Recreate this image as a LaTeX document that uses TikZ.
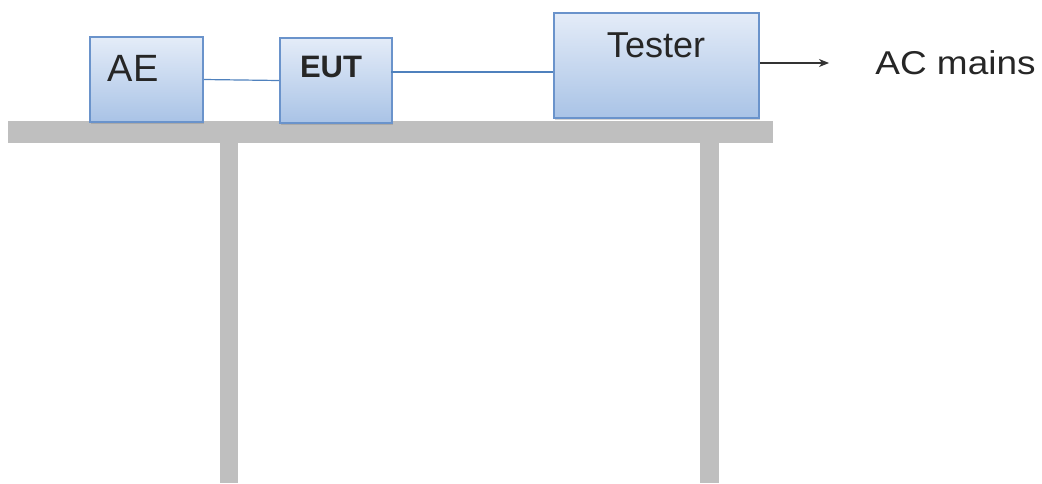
\documentclass[tikz,border=0pt]{standalone}
\usepackage{fontspec}
\setmainfont{Liberation Sans}
\usetikzlibrary{arrows.meta,shadows}
\definecolor{tablegray}{HTML}{BFBFBF}
\definecolor{boxedge}{HTML}{6A93CB}
\definecolor{boxtop}{HTML}{E4ECF8}
\definecolor{boxbot}{HTML}{A9C3E6}
\definecolor{cable}{HTML}{4F81BD}

\begin{document}
\begin{tikzpicture}[x=0.5pt,y=-0.5pt,
  unit/.style={draw=boxedge,line width=1pt,top color=boxtop,bottom color=boxbot,
    inner sep=0pt,anchor=north west,
    drop shadow={shadow xshift=0.4pt,shadow yshift=-0.9pt,opacity=0.35}},
  lbl/.style={inner sep=0pt,text=black!85}]
 \useasboundingbox (0,0) rectangle (1042,483);
 % table
 \fill[tablegray] (8,121) rectangle (773,143);
 \fill[tablegray] (220,143) rectangle (238,483); % left leg
 \fill[tablegray] (700,143) rectangle (719,483); % right leg
 % equipment
 \node[unit,minimum width=56.5pt,minimum height=42.5pt] (ae) at (89,36) {};
 \node[unit,minimum width=56pt,minimum height=42.5pt] (eut) at (279,37) {};
 \node[unit,minimum width=102.5pt,minimum height=52.5pt] (tester) at (553,12) {};
 \node[lbl,font=\fontsize{19}{22}\selectfont] (aetxt) at (133,68) {AE};
 \node[lbl,font=\fontsize{15.5}{18}\selectfont\bfseries] (euttxt) at (331,67) {EUT};
 \node[lbl,font=\fontsize{18}{21}\selectfont] (testertxt) at (656,45) {Tester};
 \node[lbl,font=\fontsize{16.5}{19}\selectfont,anchor=west] (mains) at (875,63) {\scalebox{1.12}[1]{AC mains}};
 % cables
 \draw[cable,line width=0.6pt] (ae.east) -- (eut.west);
 \coordinate (link) at (391,72);
 \draw[cable,line width=1.3pt] (link) -- (link -| tester.west);
 \coordinate (plug) at (829,63);
 \draw[black!80,line width=0.6pt,-{Stealth[length=5pt,width=4pt,inset=1.5pt]}] (tester.east |- plug) -- (plug);
\end{tikzpicture}
\end{document}
